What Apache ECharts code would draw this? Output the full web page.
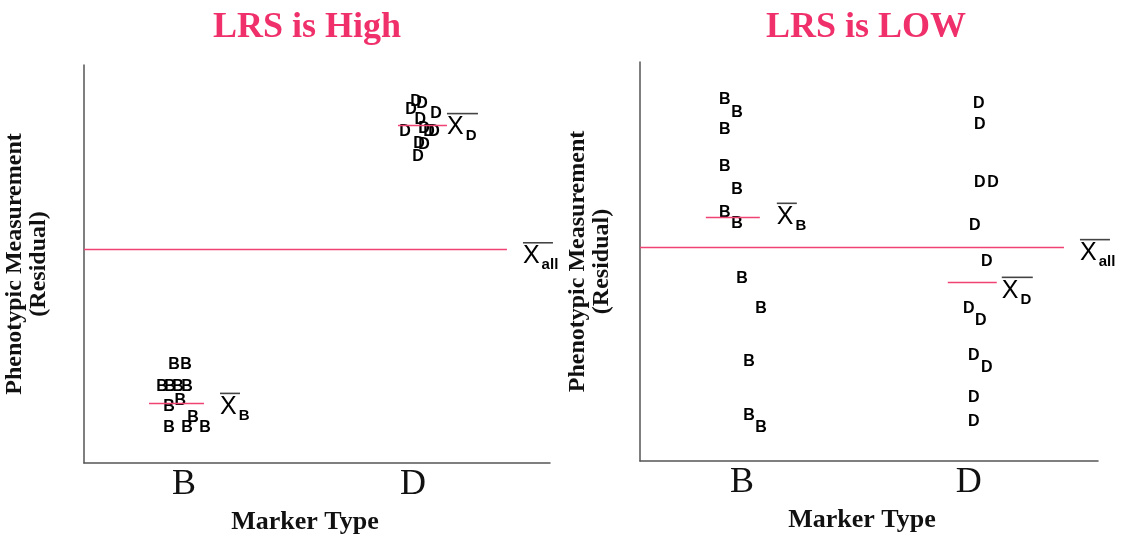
<!DOCTYPE html>
<html><head><meta charset="utf-8">
<script src="https://cdn.jsdelivr.net/npm/echarts@6/dist/echarts.min.js"></script>
<style>html,body{margin:0;padding:0;background:#fff}#c{width:1128px;height:535px}</style>
</head><body><div id="c"></div>
<script>
// ---- data ----
const categories = ['B', 'D'];          // x = 1 for B, 2 for D (plus small jitter)
const titles = ['LRS is High', 'LRS is LOW'];

// LRS is High panel: [marker position with jitter, residual]
const highB = [[0.956,24.6],[1.009,24.6],[0.904,19.1],[0.939,19.1],[0.974,19.1],[1.013,19.1],
               [0.983,15.8],[0.934,14.1],[1.039,11.3],[0.934,8.8],[1.013,8.8],[1.092,8.8]];
const highD = [[2.013,90.7],[2.039,90.2],[1.991,88.7],[2.100,87.9],[2.031,86.2],[1.965,83.2],
               [2.048,83.9],[2.070,83.2],[2.092,83.2],[2.026,80.2],[2.048,79.9],[2.022,77.1]];
const highMeanB = 15.1, highMeanD = 84.9, highMeanAll = 53.7;

// LRS is LOW panel
const lowB = [[0.925,90.5],[0.978,87.2],[0.925,83.0],[0.925,73.7],[0.978,67.9],[0.925,62.2],
              [0.978,59.4],[1.000,45.6],[1.084,38.3],[1.031,24.8],[1.031,11.5],[1.084,8.3]];
const lowD = [[2.044,89.7],[2.048,84.2],[2.048,69.7],[2.106,69.7],[2.026,59.1],[2.079,50.1],
              [2.000,38.3],[2.053,35.3],[2.022,26.3],[2.079,23.3],[2.022,16.0],[2.022,9.8]];
const lowMeanB = 61.2, lowMeanD = 44.9, lowMeanAll = 53.6;

// ---- styles ----
const PINK = '#f04273';
const AXIS = '#555';
const serif = 'Liberation Serif';
const sans = 'Liberation Sans';

function xbarRich(barW) {
  return {
    bar: {width: barW, height: 1.6, lineHeight: 2, fontSize: 1, backgroundColor: '#444'},
    x: {fontFamily: sans, fontSize: 25, lineHeight: 24, color: '#000', verticalAlign: 'top'},
    s: {fontFamily: sans, fontSize: 15, fontWeight: 'bold', lineHeight: 15, color: '#000',
        verticalAlign: 'top', padding: [14, 0, 0, 2]}
  };
}

function meanLine(y, x0, x1, sub, barW, dist, dy) {
  return {
    silent: true, animation: false, symbol: ['none', 'none'],
    lineStyle: {color: PINK, width: 1.3, type: 'solid', opacity: 1},
    emphasis: {disabled: true},
    label: {show: true, position: 'end', distance: dist, offset: [0, dy],
            formatter: '{bar| }\n{x|X}{s|' + sub + '}', rich: xbarRich(barW)},
    data: [[{coord: [x0, y]}, {coord: [x1, y]}]]
  };
}

function letters(data, letter, gi, ml) {
  return {
    type: 'scatter', xAxisIndex: gi, yAxisIndex: gi, data: data,
    symbol: 'circle', symbolSize: 1, itemStyle: {color: 'rgba(0,0,0,0)'},
    silent: true, animation: false, emphasis: {disabled: true},
    label: {show: true, position: 'inside', formatter: letter, opacity: 1,
            textBorderWidth: 0, fontFamily: sans, fontWeight: 'bold', fontSize: 16, color: '#000'},
    markLine: ml
  };
}

function xAxis(gi, min, max) {
  return {
    gridIndex: gi, type: 'value', min: min, max: max,
    axisLine: {show: true, onZero: false, lineStyle: {color: AXIS, width: 1.5}},
    axisTick: {show: false}, splitLine: {show: false},
    axisLabel: {customValues: [1, 2], formatter: v => categories[Math.round(v) - 1],
                fontFamily: serif, fontSize: 36, color: '#111', margin: 4},
    name: 'Marker Type', nameLocation: 'middle', nameGap: 46,
    nameTextStyle: {fontFamily: serif, fontWeight: 'bold', fontSize: 26, color: '#111',
                    padding: gi === 0 ? [0, 24, 0, 0] : [0, 14, 0, 0]}
  };
}

function yAxis(gi, gap) {
  return {
    gridIndex: gi, type: 'value', min: 0, max: 100,
    axisLine: {show: true, onZero: false, lineStyle: {color: AXIS, width: 1.5}},
    axisTick: {show: false}, axisLabel: {show: false}, splitLine: {show: false},
    name: 'Phenotypic Measurement\n(Residual)', nameLocation: 'middle', nameGap: gap, nameRotate: 90,
    nameTextStyle: {fontFamily: serif, fontWeight: 'bold', fontSize: 24, lineHeight: 24, color: '#111'}
  };
}

const chart = echarts.init(document.getElementById('c'));
chart.setOption({
  backgroundColor: '#fff',
  animation: false,
  title: [
    {text: titles[0], left: 302, top: 5, textAlign: 'center',
     textStyle: {fontFamily: serif, fontWeight: 'bold', fontSize: 36, color: '#f0306a'}},
    {text: titles[1], left: 861, top: 5, textAlign: 'center',
     textStyle: {fontFamily: serif, fontWeight: 'bold', fontSize: 36, color: '#f0306a'}}
  ],
  grid: [
    {left: 84, top: 65, width: 466, height: 398, outerBoundsMode: 'none', containLabel: false},
    {left: 640, top: 62, width: 458, height: 399, outerBoundsMode: 'none', containLabel: false}
  ],
  xAxis: [xAxis(0, 0.563, 2.598), xAxis(1, 0.551, 2.569)],
  yAxis: [yAxis(0, 33), yAxis(1, 26)],
  series: [
    letters(highB, 'B', 0, meanLine(highMeanB, 0.847, 1.087, 'B', 20, 16, 2.5)),
    letters(highD, 'D', 0, meanLine(highMeanD, 1.934, 2.148, 'D', 31, 0, 0.5)),
    letters([], '', 0, meanLine(highMeanAll, 0.563, 2.410, 'all', 30, 16, 5.5)),
    letters(lowB, 'B', 1, meanLine(lowMeanB, 0.841, 1.079, 'B', 20, 17, -1.5)),
    letters(lowD, 'D', 1, meanLine(lowMeanD, 1.907, 2.123, 'D', 31, 5, 7.5)),
    letters([], '', 1, meanLine(lowMeanAll, 0.551, 2.419, 'all', 30, 16, 4.5))
  ]
});
</script>
</body></html>
